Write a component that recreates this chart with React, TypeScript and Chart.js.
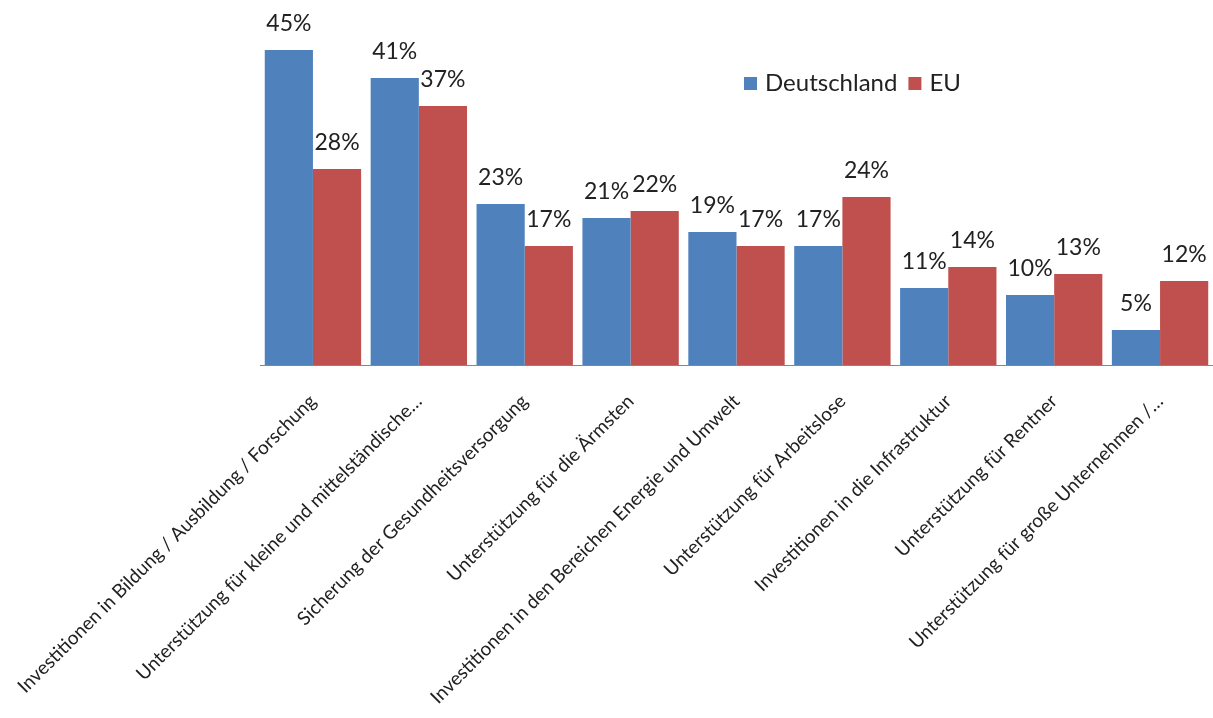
import React, { useEffect, useRef } from "react";
import { Chart, registerables } from "chart.js";

Chart.register(...registerables);

const categories = [
  "Investitionen in Bildung / Ausbildung / Forschung",
  "Unterstützung für kleine und mittelständische…",
  "Sicherung der Gesundheitsversorgung",
  "Unterstützung für die Ärmsten",
  "Investitionen in den Bereichen Energie und Umwelt",
  "Unterstützung für Arbeitslose",
  "Investitionen in die Infrastruktur",
  "Unterstützung für Rentner",
  "Unterstützung für große Unternehmen /…",
];
const deutschland = [45, 41, 23, 21, 19, 17, 11, 10, 5];
const eu = [28, 37, 17, 22, 17, 24, 14, 13, 12];
const seriesNames = ["Deutschland", "EU"];
const seriesColors = ["#4F81BD", "#C0504D"];

const FONT = "Lato, 'Open Sans', sans-serif";

const valueLabels = {
  id: "valueLabels",
  afterDatasetsDraw(chart: any) {
    const ctx = chart.ctx;
    ctx.save();
    ctx.font = `23px ${FONT}`;
    ctx.fillStyle = "#222";
    ctx.textAlign = "center";
    ctx.textBaseline = "alphabetic";
    chart.data.datasets.forEach((ds: any, i: number) => {
      const meta = chart.getDatasetMeta(i);
      meta.data.forEach((bar: any, j: number) => {
        ctx.fillText(ds.data[j] + "%", bar.x, bar.y - 19);
      });
    });
    ctx.restore();
  },
};

const customLegend = {
  id: "customLegend",
  afterDraw(chart: any) {
    const ctx = chart.ctx;
    ctx.save();
    ctx.font = `24px ${FONT}`;
    ctx.textBaseline = "middle";
    ctx.textAlign = "left";
    let x = 744;
    const y = 83;
    seriesNames.forEach((name, i) => {
      ctx.fillStyle = seriesColors[i];
      ctx.fillRect(x, y - 6, 13, 13);
      ctx.fillStyle = "#222";
      ctx.fillText(name, x + 21, y);
      x += 21 + ctx.measureText(name).width + 11;
    });
    ctx.restore();
  },
};

export default function App() {
  const ref = useRef<HTMLCanvasElement>(null);
  useEffect(() => {
    document.body.style.margin = "0";
    const chart = new Chart(ref.current!, {
      type: "bar",
      data: {
        labels: categories,
        datasets: [
          { label: seriesNames[0], data: deutschland, backgroundColor: seriesColors[0] },
          { label: seriesNames[1], data: eu, backgroundColor: seriesColors[1] },
        ],
      },
      options: {
        animation: false,
        responsive: false,
        devicePixelRatio: 1,
        layout: { padding: { left: 260, top: 15, right: 0, bottom: 0 } },
        datasets: { bar: { categoryPercentage: 0.91, barPercentage: 1 } },
        plugins: { legend: { display: false }, tooltip: { enabled: false } },
        scales: {
          x: {
            grid: { display: false, drawTicks: false },
            border: { display: true, color: "#868686", width: 1 },
            afterFit(scale: any) {
              scale.height = 353;
              scale.paddingLeft = 0;
              scale.paddingRight = 0;
            },
            ticks: {
              minRotation: 45,
              maxRotation: 45,
              autoSkip: false,
              color: "#222",
              padding: 25,
              font: { family: FONT, size: 19 },
            },
          },
          y: { display: false, min: 0, max: 50 },
        },
      },
      plugins: [valueLabels, customLegend],
    });
    return () => chart.destroy();
  }, []);
  return <canvas ref={ref} width={1213} height={718} style={{ display: "block" }} />;
}
